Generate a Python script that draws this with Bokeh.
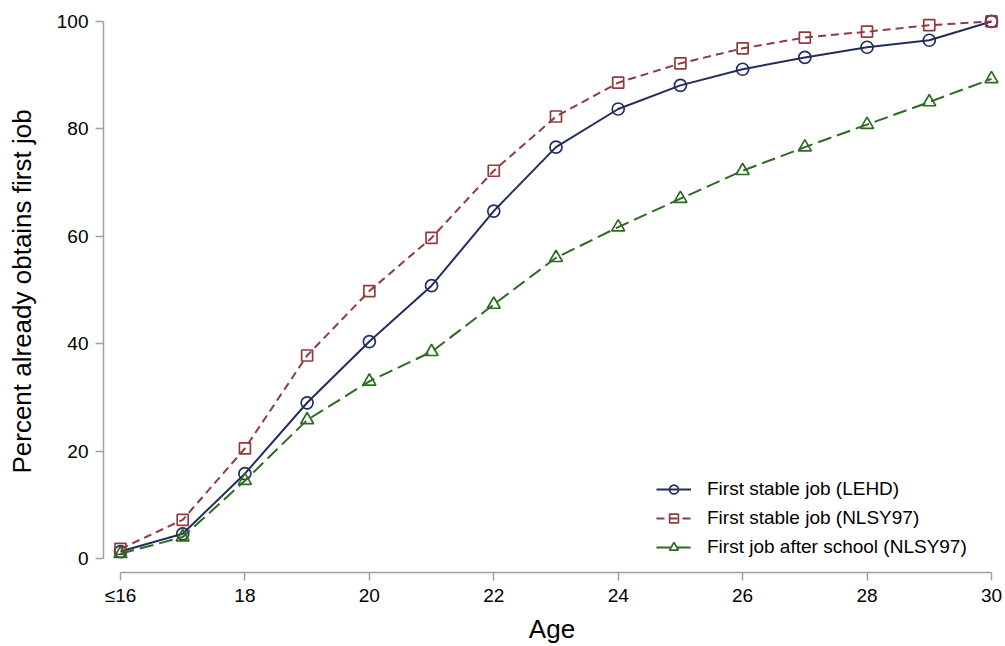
from bokeh.plotting import figure
from bokeh.models import FixedTicker, Range1d, Legend, LegendItem
from bokeh.embed import file_html
from bokeh.resources import INLINE

ages = list(range(16, 31))
tick_values = [16, 18, 20, 22, 24, 26, 28, 30]
tick_labels = {16: "≤16"}
y_ticks = [0, 20, 40, 60, 80, 100]

lehd = [1.3, 4.6, 15.8, 29.0, 40.4, 50.8, 64.7, 76.6, 83.7, 88.1, 91.1, 93.3, 95.2, 96.5, 100.0]
nlsy_stable = [1.8, 7.2, 20.5, 37.8, 49.8, 59.7, 72.2, 82.3, 88.6, 92.2, 95.0, 97.0, 98.1, 99.3, 100.0]
nlsy_school = [0.9, 4.0, 14.5, 25.8, 33.0, 38.5, 47.3, 56.0, 61.7, 67.0, 72.2, 76.6, 80.8, 85.0, 89.3]

names = ["First stable job (LEHD)", "First stable job (NLSY97)", "First job after school (NLSY97)"]

NAVY = "#232d5e"
MAROON = "#903b40"
GREEN = "#2e6b22"
FONT = "Liberation Sans"

p = figure(width=1005, height=646, output_backend="svg", toolbar_location=None,
           x_range=Range1d(15.727, 30.145), y_range=Range1d(-2.60, 102.04),
           min_border_left=103, min_border_right=5, min_border_top=10, min_border_bottom=70)
p.outline_line_color = None
p.xgrid.visible = False
p.ygrid.visible = False

for ax in (p.xaxis[0], p.yaxis[0]):
    ax.axis_line_color = "#a0a0a0"
    ax.axis_line_width = 1.5
    ax.major_tick_line_color = "#a0a0a0"
    ax.major_tick_line_width = 1.5
    ax.major_tick_out = 8
    ax.major_tick_in = 0
    ax.minor_tick_line_color = None
    ax.major_label_text_font = FONT
    ax.major_label_text_font_size = "19px"
    ax.major_label_text_color = "black"
    ax.axis_label_text_font = FONT
    ax.axis_label_text_font_size = "26px"
    ax.axis_label_text_font_style = "normal"
    ax.axis_label_text_color = "black"

p.xaxis.ticker = FixedTicker(ticks=tick_values)
p.xaxis.major_label_overrides = tick_labels
p.xaxis.bounds = (16, 30)
p.xaxis.axis_label = "Age"
p.xaxis.major_label_standoff = 4
p.xaxis.axis_label_standoff = 5

p.yaxis.ticker = FixedTicker(ticks=y_ticks)
p.yaxis.bounds = (0, 100)
p.yaxis.axis_label = "Percent already obtains first job"
p.yaxis.major_label_standoff = 7
p.yaxis.axis_label_standoff = 17

l1 = p.line(ages, lehd, line_color=NAVY, line_width=2)
s1 = p.scatter(ages, lehd, marker="circle", size=12, line_color=NAVY, fill_alpha=0, line_width=1.7)
l2 = p.line(ages, nlsy_stable, line_color=MAROON, line_width=2, line_dash="8 5")
s2 = p.scatter(ages, nlsy_stable, marker="square", size=11, line_color=MAROON, fill_alpha=0, line_width=1.7)
l3 = p.line(ages, nlsy_school, line_color=GREEN, line_width=2, line_dash="14 6")
s3 = p.scatter(ages, nlsy_school, marker="triangle", size=13, line_color=GREEN, fill_alpha=0, line_width=1.7)

legend = Legend(items=[LegendItem(label=names[0], renderers=[l1, s1]),
                       LegendItem(label=names[1], renderers=[l2, s2]),
                       LegendItem(label=names[2], renderers=[l3, s3])],
                location=(553, 14))
legend.border_line_alpha = 0
legend.background_fill_alpha = 0
legend.padding = 0
legend.margin = 0
legend.glyph_width = 35
legend.glyph_height = 22
legend.label_height = 22
legend.spacing = 7
legend.label_standoff = 16
legend.label_text_font = FONT
legend.label_text_font_size = "19px"
legend.label_text_color = "black"
p.add_layout(legend)

open("out.html", "w").write(file_html(p, INLINE))
